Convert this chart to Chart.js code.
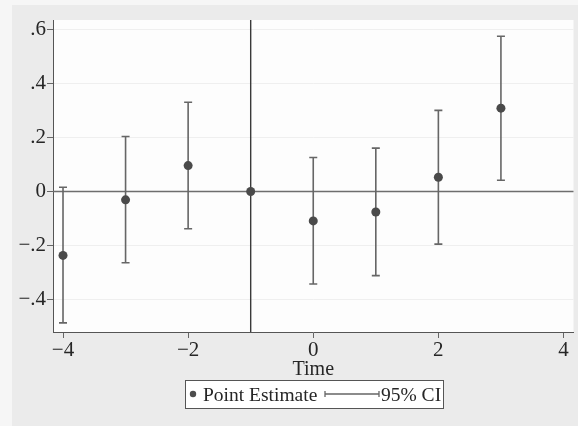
<!DOCTYPE html>
<html>
<head>
<meta charset="utf-8">
<script src="https://cdn.jsdelivr.net/npm/chart.js@4.4.1/dist/chart.umd.min.js"></script>
<style>
  html, body { margin: 0; padding: 0; background: #f6f6f6; }
  #wrap { width: 578px; height: 426px; }
</style>
</head>
<body>
<div id="wrap"><canvas id="c" width="578" height="426"></canvas></div>
<script>
// ---- data ----
const times      = [-4, -3, -2, -1, 0, 1, 2, 3];
const estimates  = [-0.237, -0.031, 0.096, 0, -0.109, -0.076, 0.053, 0.309];
const ciLower    = [-0.487, -0.264, -0.138, 0, -0.343, -0.312, -0.195, 0.042];
const ciUpper    = [0.016, 0.204, 0.331, 0, 0.126, 0.161, 0.301, 0.576];
const yTicks     = [-0.4, -0.2, 0, 0.2, 0.4, 0.6];
const yTickLabels= ['\u2212.4', '\u2212.2', '0', '.2', '.4', '.6'];
const xTicks     = [-4, -2, 0, 2, 4];
const xTickLabels= ['\u22124', '\u22122', '0', '2', '4'];
const refTime    = -1;
const xTitle     = 'Time';
const legendPoint= 'Point Estimate';
const legendCI   = '95% CI';

const SERIF = '"Liberation Serif", "Times New Roman", serif';
const TXT = '#262626';

const points = times.map((t, i) => ({ x: t, y: estimates[i] }));

const decor = {
  id: 'decor',
  beforeDraw(chart) {
    const ctx = chart.ctx, a = chart.chartArea;
    ctx.save();
    ctx.fillStyle = '#f6f6f6';
    ctx.fillRect(0, 0, chart.width, chart.height);
    ctx.fillStyle = '#ebebeb';
    ctx.fillRect(12, 5, chart.width - 12, chart.height - 5);
    ctx.fillStyle = '#fdfdfd';
    ctx.fillRect(a.left, a.top, a.right - a.left, a.bottom - a.top);
    ctx.restore();
  },
  beforeDatasetsDraw(chart) {
    const ctx = chart.ctx, a = chart.chartArea;
    const xs = chart.scales.x, ys = chart.scales.y;
    ctx.save();
    // zero line
    const y0 = ys.getPixelForValue(0);
    ctx.strokeStyle = '#6e6e6e';
    ctx.lineWidth = 1.6;
    ctx.beginPath(); ctx.moveTo(a.left, y0); ctx.lineTo(a.right, y0); ctx.stroke();
    // reference vertical line
    const xr = xs.getPixelForValue(refTime);
    ctx.strokeStyle = '#3a3a3a';
    ctx.lineWidth = 1.4;
    ctx.beginPath(); ctx.moveTo(xr, a.top); ctx.lineTo(xr, a.bottom); ctx.stroke();
    // error bars
    ctx.strokeStyle = '#666666';
    ctx.lineWidth = 1.6;
    times.forEach((t, i) => {
      if (ciLower[i] === ciUpper[i]) return;
      const px = xs.getPixelForValue(t);
      const lo = ys.getPixelForValue(ciLower[i]);
      const hi = ys.getPixelForValue(ciUpper[i]);
      ctx.beginPath();
      ctx.moveTo(px, lo); ctx.lineTo(px, hi);
      ctx.moveTo(px - 4, lo); ctx.lineTo(px + 4, lo);
      ctx.moveTo(px - 4, hi); ctx.lineTo(px + 4, hi);
      ctx.stroke();
    });
    ctx.restore();
  },
  afterDraw(chart) {
    const ctx = chart.ctx;
    ctx.save();
    // axis title
    ctx.fillStyle = TXT;
    ctx.font = '20px ' + SERIF;
    ctx.textAlign = 'center';
    ctx.textBaseline = 'alphabetic';
    ctx.fillText(xTitle, chart.scales.x.getPixelForValue(0), 375);
    // legend
    const bx = 185, by = 380, bw = 258, bh = 28;
    ctx.fillStyle = '#ffffff';
    ctx.fillRect(bx, by, bw, bh);
    ctx.strokeStyle = '#555555';
    ctx.lineWidth = 1;
    ctx.strokeRect(bx + 0.5, by + 0.5, bw, bh);
    const cy = by + 14;
    ctx.fillStyle = '#4d4d4d';
    ctx.beginPath(); ctx.arc(bx + 8, cy, 3.2, 0, Math.PI * 2); ctx.fill();
    ctx.fillStyle = TXT;
    ctx.textAlign = 'left';
    ctx.font = '19.5px ' + SERIF;
    ctx.fillText(chart.data.datasets[0].label, bx + 18, by + 21);
    const l0 = 325, l1 = 379;
    ctx.strokeStyle = '#666666';
    ctx.lineWidth = 1.3;
    ctx.beginPath();
    ctx.moveTo(l0, cy); ctx.lineTo(l1, cy);
    ctx.moveTo(l0, cy - 3); ctx.lineTo(l0, cy + 3);
    ctx.moveTo(l1, cy - 3); ctx.lineTo(l1, cy + 3);
    ctx.stroke();
    ctx.fillText(legendCI, l1 + 2, by + 21);
    ctx.restore();
  }
};

new Chart(document.getElementById('c'), {
  type: 'scatter',
  data: {
    datasets: [{
      label: legendPoint,
      data: points,
      backgroundColor: '#4a4a4a',
      borderColor: '#4a4a4a',
      pointRadius: 4.5,
      pointHoverRadius: 4.5,
      borderWidth: 0
    }]
  },
  options: {
    responsive: false,
    animation: false,
    events: [],
    layout: { padding: { left: 12, top: 20, right: 0, bottom: 44 } },
    plugins: { legend: { display: false }, tooltip: { enabled: false } },
    scales: {
      x: {
        type: 'linear',
        min: -4.16, max: 4.16,
        afterFit(s) { s.height = 50; },
        afterBuildTicks(s) { s.ticks = xTicks.map(v => ({ value: v })); },
        ticks: {
          color: TXT,
          font: { family: SERIF, size: 21 },
          padding: 0,
          maxRotation: 0,
          autoSkip: false,
          callback(v) { const k = xTicks.indexOf(v); return k >= 0 ? xTickLabels[k] : ''; }
        },
        grid: { drawOnChartArea: false, drawTicks: true, tickLength: 6, tickColor: '#666666', tickWidth: 1 },
        border: { display: true, color: '#555555', width: 1 }
      },
      y: {
        type: 'linear',
        min: -0.521, max: 0.636,
        afterFit(s) { s.width = 41; },
        afterBuildTicks(s) { s.ticks = yTicks.map(v => ({ value: v })); },
        ticks: {
          color: TXT,
          font: { family: SERIF, size: 21 },
          padding: 1,
          autoSkip: false,
          callback(v) {
            const k = yTicks.findIndex(t => Math.abs(t - v) < 1e-9);
            return k >= 0 ? yTickLabels[k] : '';
          }
        },
        grid: { color: '#efefef', lineWidth: 1, drawTicks: true, tickLength: 6, tickColor: '#666666', tickWidth: 1 },
        border: { display: true, color: '#555555', width: 1 }
      }
    }
  },
  plugins: [decor]
});
</script>
</body>
</html>
